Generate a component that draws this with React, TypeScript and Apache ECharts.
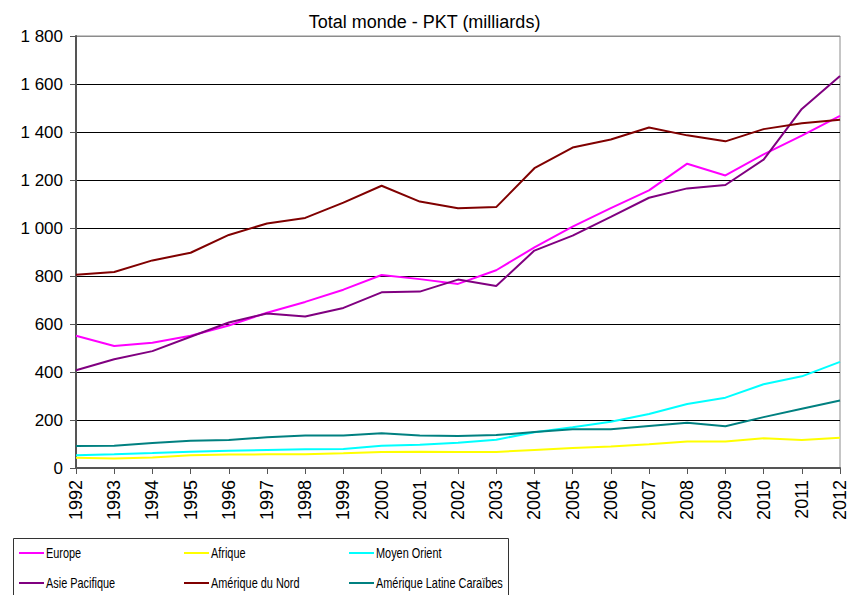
import React, { useEffect, useRef } from "react";
import * as echarts from "echarts";

const years = [
  "1992", "1993", "1994", "1995", "1996", "1997", "1998", "1999", "2000", "2001", "2002",
  "2003", "2004", "2005", "2006", "2007", "2008", "2009", "2010", "2011", "2012",
];
const europe = [551, 508, 522, 551, 594, 647, 692, 743, 804, 787, 767, 824, 919, 1006, 1083, 1157, 1268, 1219, 1307, 1385, 1467];
const afrique = [43, 40, 44, 53, 56, 57, 57, 61, 67, 68, 67, 67, 75, 83, 90, 99, 110, 110, 124, 117, 126];
const moyenOrient = [53, 57, 62, 68, 72, 75, 78, 79, 93, 97, 105, 118, 149, 170, 193, 225, 267, 293, 349, 382, 442];
const asiePacifique = [407, 453, 487, 547, 606, 644, 631, 667, 732, 735, 785, 758, 906, 968, 1046, 1126, 1165, 1179, 1285, 1496, 1633];
const ameriqueNord = [805, 817, 865, 897, 971, 1019, 1042, 1106, 1176, 1110, 1082, 1087, 1249, 1335, 1369, 1419, 1386, 1361, 1412, 1436, 1451];
const ameriqueLatine = [92, 93, 104, 114, 117, 128, 135, 135, 145, 135, 133, 137, 150, 161, 161, 175, 189, 174, 212, 247, 281];

const seriesNames = [
  "Europe",
  "Afrique",
  "Moyen Orient",
  "Asie Pacifique",
  "Amérique du Nord",
  "Amérique Latine Caraïbes",
];
const seriesData = [europe, afrique, moyenOrient, asiePacifique, ameriqueNord, ameriqueLatine];
const seriesColors = ["#FF00FF", "#FFFF00", "#00FFFF", "#800080", "#800000", "#008080"];

const titleText = "Total monde - PKT (milliards)";
const yMin = 0;
const yMax = 1800;
const yInterval = 200;

const FONT = "'Liberation Sans', Arial, sans-serif";

function fmtThousands(v: number): string {
  if (v >= 1000) {
    const th = Math.floor(v / 1000);
    const rest = String(v % 1000).padStart(3, "0");
    return th + " " + rest;
  }
  return String(v);
}

export default function App() {
  const ref = useRef<HTMLDivElement>(null);
  useEffect(() => {
    if (!ref.current) return;
    const chart = echarts.init(ref.current, undefined, { renderer: "svg" });
    const nSplit = (yMax - yMin) / yInterval + 1;
    const splitColors: string[] = [];
    for (let i = 0; i < nSplit; i++) splitColors.push(i === nSplit - 1 ? "#8c8c8c" : "#000000");

    const legendGraphics: any[] = [
      {
        type: "rect",
        shape: { x: 13.5, y: 538.5, width: 495, height: 80 },
        style: { fill: "none", stroke: "#333333", lineWidth: 1 },
        silent: true,
      },
    ];
    seriesNames.forEach((name, i) => {
      const col = i % 3;
      const row = Math.floor(i / 3);
      const x0 = 19 + col * 165;
      const y0 = 553 + row * 30;
      legendGraphics.push({
        type: "line",
        shape: { x1: x0, y1: y0, x2: x0 + 25, y2: y0 },
        style: { stroke: seriesColors[i], lineWidth: 2 },
        silent: true,
      });
      legendGraphics.push({
        type: "text",
        x: x0 + 27,
        y: y0 + 1,
        scaleX: 0.78,
        style: {
          text: name,
          fontFamily: FONT,
          fontSize: 14,
          fill: "#000",
          textVerticalAlign: "middle",
          verticalAlign: "middle",
          align: "left",
        },
        silent: true,
      });
    });

    chart.setOption({
      animation: false,
      backgroundColor: "#ffffff",
      title: {
        text: titleText,
        left: "center",
        top: 8,
        textStyle: { fontFamily: FONT, fontSize: 18, fontWeight: "normal", color: "#000" },
      },
      grid: {
        left: 76,
        right: 8,
        top: 36,
        bottom: 127,
        show: true,
        borderColor: "#8c8c8c",
        borderWidth: 1,
        backgroundColor: "transparent",
      },
      graphic: legendGraphics,
      xAxis: {
        type: "category",
        data: years,
        boundaryGap: false,
        axisLine: { lineStyle: { color: "#555555", width: 2 } },
        axisTick: { show: true, alignWithLabel: true, length: 6, interval: 0, lineStyle: { color: "#555555" } },
        axisLabel: {
          interval: 0,
          rotate: 90,
          margin: 12,
          fontFamily: FONT,
          fontSize: 18,
          color: "#000",
        },
        splitLine: { show: false },
      },
      yAxis: {
        type: "value",
        min: yMin,
        max: yMax,
        interval: yInterval,
        axisLine: { show: true, lineStyle: { color: "#555555", width: 2 } },
        axisTick: { show: true, length: 6, lineStyle: { color: "#555555" } },
        axisLabel: {
          margin: 13,
          fontFamily: FONT,
          fontSize: 17,
          color: "#000",
          formatter: (v: number) => fmtThousands(v),
        },
        splitLine: { show: true, lineStyle: { color: splitColors, width: 1 } },
      },
      series: seriesNames.map((name, i) => ({
        name,
        type: "line",
        data: seriesData[i],
        symbol: "none",
        showSymbol: false,
        lineStyle: { color: seriesColors[i], width: 2 },
        itemStyle: { color: seriesColors[i] },
      })),
    });
    return () => chart.dispose();
  }, []);
  return (
    <div
      ref={ref}
      style={{ position: "fixed", left: 0, top: 0, width: 849, height: 595, background: "#fff" }}
    />
  );
}
